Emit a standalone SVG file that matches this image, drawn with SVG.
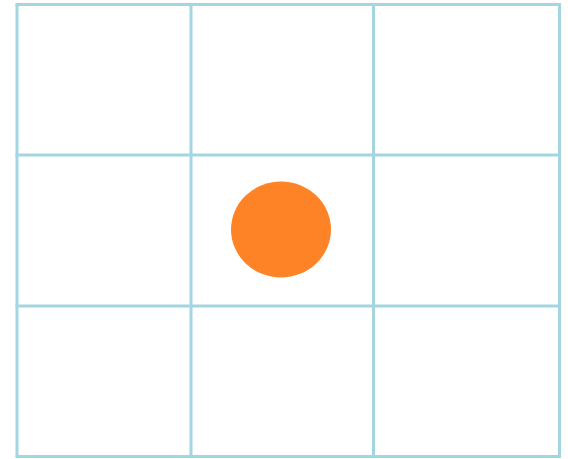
<svg xmlns="http://www.w3.org/2000/svg" width="568" height="459" viewBox="0 0 568 459">
<style>
.g{stroke:#a3d6e0;stroke-width:3;fill:none}
</style>
<rect width="568" height="459" fill="#ffffff"/>
<g id="grid">
<line class="g" x1="17" y1="4" x2="17" y2="457"/>
<line class="g" x1="191" y1="4" x2="191" y2="457"/>
<line class="g" x1="373.5" y1="4" x2="373.5" y2="457"/>
<line class="g" x1="559.5" y1="4" x2="559.5" y2="457"/>
<line class="g" x1="15.5" y1="4.5" x2="561" y2="4.5"/>
<line class="g" x1="15.5" y1="155" x2="561" y2="155"/>
<line class="g" x1="15.5" y1="306" x2="561" y2="306"/>
<line class="g" x1="15.5" y1="456.5" x2="561" y2="456.5"/>
</g>
<g id="dot">
<ellipse cx="281" cy="229.5" rx="50" ry="48" fill="#fd8326"/>
</g>
</svg>
